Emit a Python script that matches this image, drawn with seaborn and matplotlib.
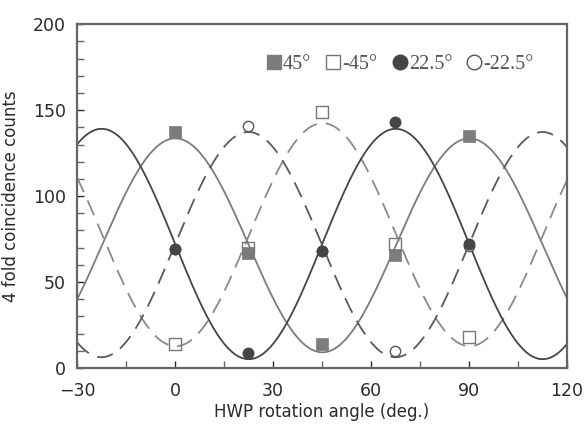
import numpy as np
import pandas as pd
import matplotlib
matplotlib.use("Agg")
import matplotlib.pyplot as plt
from matplotlib.lines import Line2D
from matplotlib.ticker import MultipleLocator
import seaborn as sns

# HWP angles where counts were measured
angles = [0, 22.5, 45, 67.5, 90]

# 4-fold coincidence counts for each polarizer setting
counts_p45 = [137, 67, 14, 66, 135]
counts_m45 = [14, 70, 149, 72, 18]
counts_p225 = [69, 9, 68, 143, 72]
counts_m225 = [69, 141, 68, 10, 71]   # 0/45/90 points sit under the filled circles

labels = ["45°", "-45°", "22.5°", "-22.5°"]

sns.set_style("white")
plt.rcParams["font.family"] = ["DejaVu Sans"]


def fit_curve(x, y, xs):
    # least-squares fit  A + B cos(4t) + C sin(4t)
    t = np.radians(np.asarray(x, dtype=float)) * 4
    M = np.column_stack([np.ones_like(t), np.cos(t), np.sin(t)])
    coef, *_ = np.linalg.lstsq(M, np.asarray(y, dtype=float), rcond=None)
    ts = np.radians(xs) * 4
    return coef[0] + coef[1] * np.cos(ts) + coef[2] * np.sin(ts)


xs = np.linspace(-30, 120, 601)

fig = plt.figure(figsize=(5.85, 4.24), dpi=100)
ax = fig.add_axes([0.1316, 0.132, 0.8376, 0.811])

series = [
    (counts_p45, "#7c7c7c", "-"),
    (counts_m45, "#8a8a8a", "--"),
    (counts_p225, "#454545", "-"),
    (counts_m225, "#5a5a5a", "--"),
]
for y, color, ls in series:
    fit = pd.DataFrame({"x": xs, "y": fit_curve(angles, y, xs)})
    sns.lineplot(data=fit, x="x", y="y", ax=ax, color=color, lw=1.3)
    if ls == "--":
        ax.lines[-1].set_dashes([9, 5])

# data points
sns.scatterplot(x=angles, y=counts_m225, ax=ax, marker="o", s=55,
                facecolor="white", edgecolor="#555555", linewidth=1.0, zorder=3)
sns.scatterplot(x=angles, y=counts_p45, ax=ax, marker="s", s=75,
                color="#7c7c7c", edgecolor="#7c7c7c", linewidth=0.5, zorder=3)
sns.scatterplot(x=angles, y=counts_m45, ax=ax, marker="s", s=75,
                facecolor="none", edgecolor="#777777", linewidth=1.0, zorder=4)
sns.scatterplot(x=angles, y=counts_p225, ax=ax, marker="o", s=65,
                color="#454545", edgecolor="#454545", linewidth=0.5, zorder=4)

ax.set_xlim(-30, 120)
ax.set_ylim(0, 200)
ax.xaxis.set_major_locator(MultipleLocator(30))
ax.xaxis.set_minor_locator(MultipleLocator(15))
ax.yaxis.set_major_locator(MultipleLocator(50))
ax.yaxis.set_minor_locator(MultipleLocator(10))
ax.tick_params(which="both", direction="in", length=5, width=1,
               color="#666666", bottom=True, left=True, top=False, right=False)
ax.tick_params(which="major", labelsize=12.5, colors="#2a2a2a")
ax.tick_params(axis="x", which="major", pad=10)
ax.tick_params(axis="y", which="major", pad=8)
ax.set_xticks([-30, 0, 30, 60, 90, 120])
ax.set_xticklabels(["\u221230", "0", "30", "60", "90", "120"])

for sp in ax.spines.values():
    sp.set_color("#666666")
    sp.set_linewidth(1.6)

ax.set_xlabel("HWP rotation angle (deg.)", fontsize=12, color="#2a2a2a", labelpad=2)
ax.set_ylabel("4 fold coincidence counts", fontsize=12, color="#2a2a2a", labelpad=9)

handles = [
    Line2D([], [], ls="none", marker="s", ms=9.5, mfc="#7c7c7c", mec="#7c7c7c"),
    Line2D([], [], ls="none", marker="s", ms=9.5, mfc="white", mec="#777777"),
    Line2D([], [], ls="none", marker="o", ms=10.5, mfc="#454545", mec="#454545"),
    Line2D([], [], ls="none", marker="o", ms=10.5, mfc="white", mec="#555555"),
]
ax.legend(handles, labels, ncol=4, frameon=False, loc="center left",
          bbox_to_anchor=(0.365, 0.882), handlelength=0.8, handletextpad=0.05,
          columnspacing=0.7, borderpad=0,
          prop={"family": "Liberation Serif", "size": 14.5},
          labelcolor="#555555")

fig.savefig("out.png", dpi=100)
